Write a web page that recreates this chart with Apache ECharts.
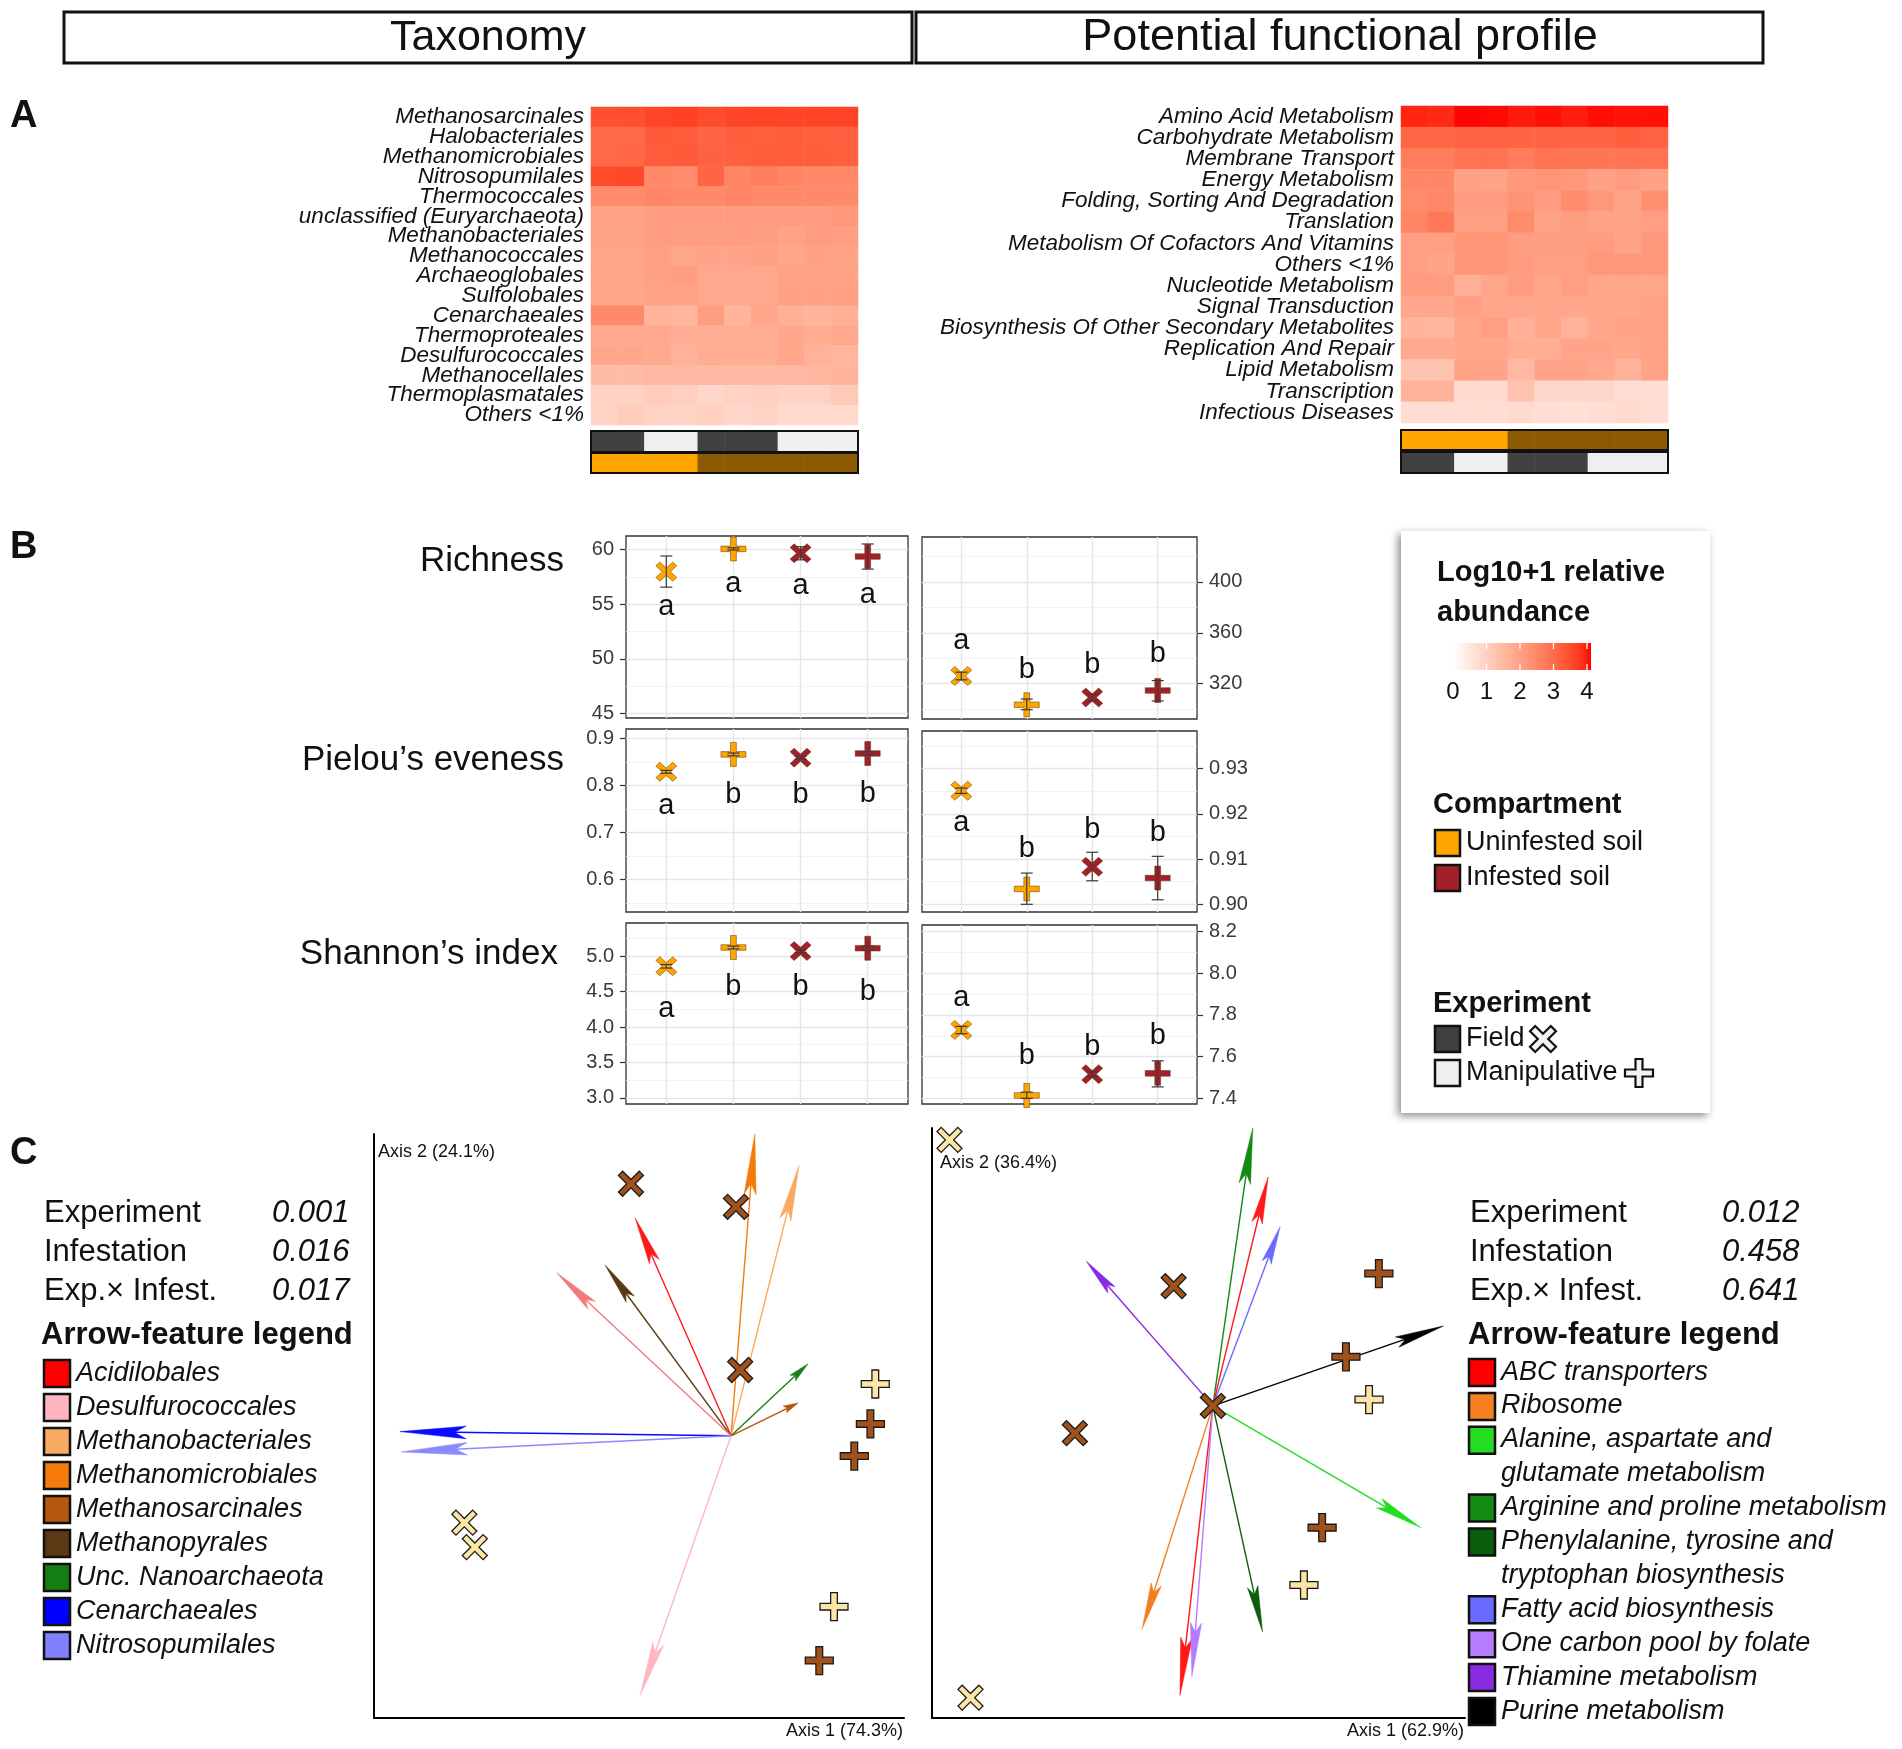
<!DOCTYPE html>
<html><head><meta charset="utf-8">
<script src="https://cdn.jsdelivr.net/npm/echarts@6/dist/echarts.min.js"></script>
<style>html,body{margin:0;padding:0;background:#fff}#c{width:1902px;height:1749px}</style>
</head><body><div id="c"></div>
<script>
// ================= DATA =================
// ---- Panel A : heatmaps (log10+1 relative abundance) ----
const sampleCols = ['S1','S2','S3','S4','S5','S6','S7','S8','S9','S10'];
const taxaRows = ['Methanosarcinales','Halobacteriales','Methanomicrobiales','Nitrosopumilales','Thermococcales',
  'unclassified (Euryarchaeota)','Methanobacteriales','Methanococcales','Archaeoglobales','Sulfolobales',
  'Cenarchaeales','Thermoproteales','Desulfurococcales','Methanocellales','Thermoplasmatales','Others <1%'];
const taxaValues = [
  [3.45,3.48,3.62,3.68,3.52,3.62,3.63,3.62,3.63,3.64],
  [3.08,3.05,3.30,3.28,3.15,3.24,3.22,3.24,3.22,3.20],
  [3.08,3.10,3.28,3.30,3.18,3.22,3.25,3.26,3.24,3.22],
  [3.55,3.58,2.47,2.40,3.15,2.55,2.68,2.55,2.48,2.48],
  [2.45,2.45,2.52,2.47,2.47,2.55,2.47,2.47,2.47,2.47],
  [1.98,1.98,2.12,2.10,2.10,2.10,2.10,2.10,2.10,2.18],
  [1.95,1.95,2.08,2.08,2.08,2.08,2.08,1.98,2.10,2.05],
  [1.92,1.92,2.02,1.90,1.93,1.93,2.00,1.88,2.00,1.93],
  [1.92,1.92,2.00,2.08,1.85,1.85,1.85,1.98,1.98,1.98],
  [1.88,1.88,1.98,1.98,1.85,1.85,1.85,2.00,2.00,2.00],
  [2.47,2.47,1.62,1.58,2.08,1.62,1.88,1.70,1.62,1.70],
  [1.82,1.82,1.85,1.75,1.75,1.75,1.75,1.88,1.78,1.85],
  [1.88,1.88,1.82,1.65,1.78,1.75,1.75,1.88,1.65,1.58],
  [1.45,1.45,1.52,1.52,1.52,1.52,1.52,1.52,1.55,1.60],
  [0.95,0.95,1.10,1.00,0.85,0.95,1.00,0.92,0.95,1.15],
  [0.92,1.10,0.95,0.92,1.02,0.85,0.95,0.80,0.80,0.82]];
const funcRows = ['Amino Acid Metabolism','Carbohydrate Metabolism','Membrane Transport','Energy Metabolism',
  'Folding, Sorting And Degradation','Translation','Metabolism Of Cofactors And Vitamins','Others <1%',
  'Nucleotide Metabolism','Signal Transduction','Biosynthesis Of Other Secondary Metabolites',
  'Replication And Repair','Lipid Metabolism','Transcription','Infectious Diseases'];
const funcValues = [
  [3.95,3.90,4.10,4.08,4.00,4.05,3.98,4.06,4.03,4.05],
  [3.10,3.10,3.17,3.17,3.15,3.13,3.13,3.13,3.25,3.17],
  [2.70,2.70,2.88,2.88,2.70,2.88,2.83,2.83,2.85,2.85],
  [2.52,2.52,2.00,1.93,2.20,2.25,2.20,2.00,2.12,2.00],
  [2.45,2.50,2.12,2.12,2.27,2.12,2.40,2.20,1.95,2.33],
  [2.55,2.80,2.05,2.05,2.45,1.98,2.08,1.98,1.98,2.05],
  [2.05,2.05,2.22,2.22,2.08,2.08,2.08,2.10,1.98,2.15],
  [2.05,1.93,2.22,2.22,2.10,2.05,2.05,2.20,2.20,2.20],
  [2.10,2.10,1.70,1.88,2.10,1.88,2.05,1.88,1.88,1.88],
  [1.87,1.87,2.05,1.88,1.88,1.88,1.88,1.88,1.88,1.98],
  [1.62,1.58,1.88,2.05,1.70,1.88,1.65,1.88,1.98,1.98],
  [1.82,1.82,1.88,1.88,1.75,1.75,1.93,1.93,1.88,1.98],
  [1.25,1.25,1.98,1.93,1.50,1.93,1.93,1.85,1.65,1.98],
  [1.65,1.65,0.80,0.80,1.30,0.85,0.85,0.85,0.72,0.72],
  [0.72,0.72,0.72,0.72,0.80,0.70,0.65,0.70,0.80,0.68]];
const experimentAnnot = [0,0,1,1,0,0,0,1,1,1];   // 0 Field, 1 Manipulative
const compartmentAnnot = [2,2,2,2,3,3,3,3,3,3];  // 2 Uninfested, 3 Infested
const annotColors = ['#404040','#efefef','#ffa500','#8c5a00'];
const abundanceTicks = [0,1,2,3,4];
const abundanceMax = 4.12;

// ---- Panel B : alpha diversity (4 groups) ----
const groupNames = ['Uninfested-Field','Uninfested-Manipulative','Infested-Field','Infested-Manipulative'];
const groupX = [1,2,3,4];
const groupShape = ['x','+','x','+'];
const groupColor = ['#ffa500','#ffa500','#a3202a','#a3202a'];

const taxRichMean=[57.97,60.05,59.65,59.35], taxRichLow=[56.55,59.95,59.05,58.2], taxRichHigh=[59.4,60.15,60.25,60.5];
const taxRichLetters=['a','a','a','a'], taxRichLetterY=[54.74,56.85,56.67,55.79];
const taxRichTicks=[45,50,55,60], taxRichRange=[44.58,61.23];

const taxEvenMean=[0.829,0.866,0.859,0.868], taxEvenLow=[0.826,0.863,0.856,0.864], taxEvenHigh=[0.832,0.869,0.862,0.872];
const taxEvenLetters=['a','b','b','b'], taxEvenLetterY=[0.757,0.780,0.780,0.781];
const taxEvenTicks=[0.6,0.7,0.8,0.9], taxEvenRange=[0.531,0.920];

const taxShanMean=[4.855,5.12,5.07,5.11], taxShanLow=[4.83,5.10,5.05,5.08], taxShanHigh=[4.88,5.14,5.09,5.14];
const taxShanLetters=['a','b','b','b'], taxShanLetterY=[4.255,4.566,4.566,4.496];
const taxShanTicks=[3.0,3.5,4.0,4.5,5.0], taxShanRange=[2.915,5.465];

const funRichMean=[326,303.4,309.1,314.6], funRichLow=[323,299.5,306.5,306.4], funRichHigh=[329,307.9,311.7,322.4];
const funRichLetters=['a','b','b','b'], funRichLetterY=[353.2,330.6,334.5,343.5];
const funRichTicks=[320,360,400], funRichRange=[292.2,435.3];

const funEvenMean=[0.9251,0.9034,0.9083,0.9058], funEvenLow=[0.9245,0.900,0.9052,0.9010], funEvenHigh=[0.9257,0.9069,0.9115,0.9106];
const funEvenLetters=['a','b','b','b'], funEvenLetterY=[0.918,0.9123,0.9165,0.9157];
const funEvenTicks=[0.90,0.91,0.92,0.93], funEvenRange=[0.8983,0.9383];

const funShanMean=[7.728,7.414,7.516,7.52], funShanLow=[7.71,7.40,7.505,7.455], funShanHigh=[7.745,7.43,7.527,7.58];
const funShanLetters=['a','b','b','b'], funShanLetterY=[7.882,7.603,7.646,7.699];
const funShanTicks=[7.4,7.6,7.8,8.0,8.2], funShanRange=[7.373,8.231];

// ---- Panel C : PCoA biplots ----
const taxScore1 = [-0.143,0.007,0.013,-0.381,-0.366,0.206,0.147,0.199,0.176,0.126];
const taxScore2 = [0.360,0.327,0.094,-0.124,-0.159,0.074,-0.244,0.017,-0.029,-0.321];
const taxPointExp = ['Field','Field','Field','Field','Field','Manipulative','Manipulative','Manipulative','Manipulative','Manipulative'];
const taxPointInf = ['Infested','Infested','Infested','Uninfested','Uninfested','Uninfested','Uninfested','Infested','Infested','Infested'];
const taxArrowNames = ['Methanomicrobiales','Methanobacteriales','Acidilobales','Methanopyrales','Desulfurococcales (2)',
  'Unc. Nanoarchaeota','Methanosarcinales','Cenarchaeales','Nitrosopumilales','Desulfurococcales'];
const taxArrow1 = [0.034,0.097,-0.137,-0.180,-0.249,0.110,0.096,-0.473,-0.471,-0.130];
const taxArrow2 = [0.431,0.386,0.311,0.244,0.233,0.103,0.047,0.006,-0.023,-0.371];
const taxArrowColors = ['#f47a0c','#f9aa62','#ff1a1a','#5a3a12','#f27c7c','#1e7e1e','#b4570f','#0a0aff','#8a8aff','#ffb6c1'];
const taxAxisRange1 = [-0.510,0.247], taxAxisRange2 = [-0.403,0.431];

const funScore1 = [0,-0.056,-0.197,-0.346,-0.376,0.237,0.190,0.156,0.223,0.130];
const funScore2 = [0,0.171,-0.039,-0.417,0.380,0.189,0.070,-0.174,0.009,-0.256];
const funPointExp = ['Field','Field','Field','Field','Field','Manipulative','Manipulative','Manipulative','Manipulative','Manipulative'];
const funPointInf = ['Infested','Infested','Infested','Uninfested','Uninfested','Infested','Infested','Infested','Uninfested','Uninfested'];
const funArrowNames = ['Arginine and proline metabolism','ABC transporters','Fatty acid biosynthesis','Thiamine metabolism',
  'Purine metabolism','Alanine, aspartate and glutamate metabolism','Phenylalanine, tyrosine and tryptophan biosynthesis',
  'Ribosome','ABC transporters (2)','One carbon pool by folate'];
const funArrow1 = [0.057,0.079,0.096,-0.181,0.329,0.297,0.071,-0.101,-0.047,-0.030];
const funArrow2 = [0.397,0.327,0.256,0.207,0.114,-0.174,-0.323,-0.319,-0.414,-0.387];
const funArrowColors = ['#138a13','#ff1a1a','#6a6aff','#8a2be2','#000000','#22dd22','#0b5e0b','#f08020','#ff1a1a','#b57cff'];
const funAxisRange1 = [-0.401,0.360], funAxisRange2 = [-0.446,0.397];

const statNames = ['Experiment','Infestation','Exp.\u00d7 Infest.'];
const taxStatP = ['0.001','0.016','0.017'];
const funStatP = ['0.012','0.458','0.641'];
const taxLegendNames = ['Acidilobales','Desulfurococcales','Methanobacteriales','Methanomicrobiales','Methanosarcinales',
  'Methanopyrales','Unc. Nanoarchaeota','Cenarchaeales','Nitrosopumilales'];
const taxLegendColors = ['#ff0000','#ffb6c1','#f9aa62','#f47a0c','#b4570f','#5a3a12','#137f13','#0000ff','#8080ff'];
const funLegendNames = ['ABC transporters','Ribosome','Alanine, aspartate and\nglutamate metabolism','Arginine and proline metabolism',
  'Phenylalanine, tyrosine and\ntryptophan biosynthesis','Fatty acid biosynthesis','One carbon pool by folate','Thiamine metabolism','Purine metabolism'];
const funLegendColors = ['#ff0000','#f58020','#22dd22','#138a13','#0b5e0b','#6a6aff','#b57cff','#8a2be2','#000000'];

// ================= STYLE HELPERS =================
const FONT = "'Liberation Sans', Arial, sans-serif";
const INK = '#111';
function labToRgb(L,a,b){
  const fy=(L+16)/116, fx=fy+a/500, fz=fy-b/200;
  const f=t=>{const t3=t*t*t; return t3>0.008856?t3:(t-16/116)/7.787;};
  const X=0.95047*f(fx), Y=f(fy), Z=1.08883*f(fz);
  const r=3.2406*X-1.5372*Y-0.4986*Z, g=-0.9689*X+1.8758*Y+0.0415*Z, bb=0.0557*X-0.2040*Y+1.0570*Z;
  const gam=c=>{c=Math.max(0,Math.min(1,c));return c<=0.0031308?12.92*c:1.055*Math.pow(c,1/2.4)-0.055;};
  return 'rgb('+[r,g,bb].map(c=>Math.round(gam(c)*255)).join(',')+')';
}
const rampStops=[];
for(let i=0;i<=24;i++){const t=i/24; rampStops.push(labToRgb(100-46.76*t,80.09*t,67.2*t));}

function crossRaw(h, rot){
  let p=[[-h,-3],[h,-3],[h,-h],[3,-h],[3,h],[h,h],[h,3],[-h,3],[-h,h],[-3,h],[-3,-h],[-h,-h]];
  if(rot){const s=Math.SQRT1_2; p=p.map(q=>[(q[0]-q[1])*s,(q[0]+q[1])*s]);}
  return p;
}
function crossPath(h,rot){return 'path://M'+crossRaw(h,rot).map(q=>q[0].toFixed(3)+','+q[1].toFixed(3)).join('L')+'Z';}
function crossPoly(h,rot,cx,cy,size){
  const p=crossRaw(h,rot); const m=Math.max(...p.map(q=>Math.abs(q[0])));
  return p.map(q=>[cx+q[0]/m*size/2, cy+q[1]/m*size/2]);
}
const PLUS_B=crossPath(0.7,false), X_B=crossPath(0.72,true);
const PLUS_C=crossPath(0.72,false), X_C=crossPath(0.6,true);

// ================= BUILD OPTION =================
const grid=[], xAxis=[], yAxis=[], series=[], graphic=[];
function txt(text,x,y,size,opt){
  opt=opt||{};
  graphic.push({type:'text',z:50,style:{text:text,x:x,y:y,fill:opt.color||INK,
    font:(opt.italic?'italic ':'')+(opt.bold?'bold ':'')+size+'px '+FONT,
    textAlign:opt.align||'left',textVerticalAlign:'middle'}});
}
function rect(x,y,w,h,fill,stroke,lw,z){
  graphic.push({type:'rect',z:z||40,shape:{x:x,y:y,width:w,height:h},style:{fill:fill,stroke:stroke,lineWidth:lw||0}});
}

// --- heatmaps ---
const heatSeriesIdx=[], annotSeriesIdx=[];
function addHeat(rows, values, box){
  const gi=grid.length, xi=xAxis.length, yi=yAxis.length;
  grid.push({left:box.left,top:box.top,width:box.width,height:box.height});
  xAxis.push({gridIndex:gi,type:'category',data:sampleCols,show:false});
  yAxis.push({gridIndex:gi,type:'category',data:rows,inverse:true,axisLine:{show:false},axisTick:{show:false},
    axisLabel:{interval:0,fontFamily:FONT,fontStyle:'italic',fontSize:22.5,color:INK,margin:7}});
  const data=[]; values.forEach((r,ri)=>r.forEach((v,ci)=>data.push([ci,ri,v])));
  heatSeriesIdx.push(series.length);
  series.push({type:'heatmap',xAxisIndex:xi,yAxisIndex:yi,data:data,itemStyle:{borderWidth:0},emphasis:{disabled:true},progressive:0});
}
function addAnnot(codes, box){
  const gi=grid.length, xi=xAxis.length, yi=yAxis.length;
  grid.push({left:box.left,top:box.top,width:box.width,height:box.height});
  xAxis.push({gridIndex:gi,type:'category',data:sampleCols,show:false});
  yAxis.push({gridIndex:gi,type:'category',data:['a'],show:false});
  annotSeriesIdx.push(series.length);
  series.push({type:'heatmap',xAxisIndex:xi,yAxisIndex:yi,data:codes.map((c,i)=>[i,0,c]),itemStyle:{borderWidth:0},emphasis:{disabled:true},progressive:0});
  rect(box.left,box.top,box.width,box.height,'none','#111',2,45);
}
addHeat(taxaRows,taxaValues,{left:591,top:107,width:267,height:318});
addAnnot(experimentAnnot,{left:591,top:431,width:267,height:21});
addAnnot(compartmentAnnot,{left:591,top:453,width:267,height:20});
addHeat(funcRows,funcValues,{left:1401,top:106,width:267,height:317});
addAnnot(compartmentAnnot,{left:1401,top:430,width:267,height:20});
addAnnot(experimentAnnot,{left:1401,top:452,width:267,height:21});

// --- diversity panels ---
function minorOf(t){const s=t[1]-t[0]; const m=[t[0]-s/2]; t.forEach(v=>m.push(v+s/2)); return m;}
function addDiv(box, side, range, ticks, dec, mean, low, high, letters, letterY){
  const gi=grid.length;
  grid.push({left:box.left,top:box.top,width:box.width,height:box.height,show:true,borderColor:'#333',borderWidth:1.3,backgroundColor:'#fff'});
  const xi=xAxis.length;
  xAxis.push({gridIndex:gi,type:'value',min:0.4,max:4.6,axisLine:{show:false},
    axisTick:{show:false,customValues:groupX},axisLabel:{show:false,customValues:groupX},
    splitLine:{show:true,lineStyle:{color:'#e6e6e6',width:1.4}}});
  const yi=yAxis.length;
  yAxis.push({gridIndex:gi,type:'value',position:side,min:range[0],max:range[1],axisLine:{show:false},
    axisTick:{show:true,customValues:ticks,length:6,lineStyle:{color:'#333',width:1.2}},
    axisLabel:{customValues:ticks,formatter:v=>Number(v).toFixed(dec),fontFamily:FONT,fontSize:20,color:'#3a3a3a',margin:12},
    splitLine:{show:true,lineStyle:{color:'#e6e6e6',width:1.4}}});
  const mv=minorOf(ticks).filter(v=>v>range[0]&&v<range[1]);
  yAxis.push({gridIndex:gi,type:'value',position:side==='left'?'right':'left',min:range[0],max:range[1],axisLine:{show:false},
    axisTick:{show:false,customValues:mv},axisLabel:{show:false,customValues:mv},
    splitLine:{show:true,lineStyle:{color:'#f0f0f0',width:0.8}}});
  series.push({type:'scatter',xAxisIndex:xi,yAxisIndex:yi,z:3,
    data:mean.map((m,i)=>({value:[groupX[i],m],symbol:groupShape[i]==='x'?X_B:PLUS_B,
      symbolSize:groupShape[i]==='x'?[21,19]:[25,24],
      itemStyle:{color:groupColor[i],opacity:1,borderColor:'#5a3500',borderWidth:0.5}}))});
  series.push({type:'custom',xAxisIndex:xi,yAxisIndex:yi,z:4,data:mean.map((m,i)=>[groupX[i],low[i],high[i]]),
    renderItem:(p,api)=>{const x=api.value(0);const a=api.coord([x,api.value(1)]),b=api.coord([x,api.value(2)]);
      const st={stroke:'#3a3a3a',lineWidth:1.2};const w=6;
      return {type:'group',children:[
        {type:'line',shape:{x1:a[0],y1:a[1],x2:b[0],y2:b[1]},style:st},
        {type:'line',shape:{x1:a[0]-w,y1:a[1],x2:a[0]+w,y2:a[1]},style:st},
        {type:'line',shape:{x1:b[0]-w,y1:b[1],x2:b[0]+w,y2:b[1]},style:st}]};}});
  series.push({type:'custom',xAxisIndex:xi,yAxisIndex:yi,z:5,data:letterY.map((y,i)=>[groupX[i],y,i]),
    renderItem:(p,api)=>{const c=api.coord([api.value(0),api.value(1)]);
      return {type:'text',style:{text:letters[api.value(2)],x:c[0],y:c[1],font:'29px '+FONT,fill:INK,
        textAlign:'center',textVerticalAlign:'middle'}};}});
}
addDiv({left:626,top:536,width:282,height:182},'left',taxRichRange,taxRichTicks,0,taxRichMean,taxRichLow,taxRichHigh,taxRichLetters,taxRichLetterY);
addDiv({left:626,top:729,width:282,height:183},'left',taxEvenRange,taxEvenTicks,1,taxEvenMean,taxEvenLow,taxEvenHigh,taxEvenLetters,taxEvenLetterY);
addDiv({left:626,top:923,width:282,height:181},'left',taxShanRange,taxShanTicks,1,taxShanMean,taxShanLow,taxShanHigh,taxShanLetters,taxShanLetterY);
addDiv({left:922,top:537,width:275,height:182},'right',funRichRange,funRichTicks,0,funRichMean,funRichLow,funRichHigh,funRichLetters,funRichLetterY);
addDiv({left:922,top:731,width:275,height:181},'right',funEvenRange,funEvenTicks,2,funEvenMean,funEvenLow,funEvenHigh,funEvenLetters,funEvenLetterY);
addDiv({left:922,top:925,width:275,height:179},'right',funShanRange,funShanTicks,1,funShanMean,funShanLow,funShanHigh,funShanLetters,funShanLetterY);

// --- PCoA biplots ---
const infColor={Infested:'#a0521a',Uninfested:'#fbe6a6'};
function addPcoa(box, r1, r2, s1, s2, pExp, pInf, a1, a2, aCol){
  const gi=grid.length, xi=xAxis.length, yi=yAxis.length;
  grid.push({left:box.left,top:box.top,width:box.width,height:box.height});
  const ls={color:'#000',width:2};
  xAxis.push({gridIndex:gi,type:'value',min:r1[0],max:r1[1],axisLine:{show:true,onZero:false,lineStyle:ls},
    axisTick:{show:false},axisLabel:{show:false},splitLine:{show:false}});
  yAxis.push({gridIndex:gi,type:'value',min:r2[0],max:r2[1],axisLine:{show:true,onZero:false,lineStyle:ls},
    axisTick:{show:false},axisLabel:{show:false},splitLine:{show:false}});
  series.push({type:'custom',xAxisIndex:xi,yAxisIndex:yi,z:2,clip:false,data:a1.map((v,i)=>[v,a2[i],i]),
    renderItem:(p,api)=>{
      const o=api.coord([0,0]), t=api.coord([api.value(0),api.value(1)]); const col=aCol[api.value(2)];
      const dx=t[0]-o[0], dy=t[1]-o[1], len=Math.hypot(dx,dy), ux=dx/len, uy=dy/len, nx=-uy, ny=ux;
      const hl=0.2*len, hw=3+0.01*len;
      const bx=t[0]-ux*hl, by=t[1]-uy*hl, mx=t[0]-ux*hl*0.82, my=t[1]-uy*hl*0.82;
      return {type:'group',children:[
        {type:'line',shape:{x1:o[0],y1:o[1],x2:mx,y2:my},style:{stroke:col,lineWidth:1.4}},
        {type:'polygon',shape:{points:[[t[0],t[1]],[bx+nx*hw,by+ny*hw],[mx,my],[bx-nx*hw,by-ny*hw]]},style:{fill:col,stroke:col,lineWidth:0.5}}]};
    }});
  series.push({type:'scatter',xAxisIndex:xi,yAxisIndex:yi,z:4,clip:false,
    data:s1.map((v,i)=>({value:[v,s2[i]],symbol:pExp[i]==='Field'?X_C:PLUS_C,symbolSize:pExp[i]==='Field'?[25,25]:[28,28],
      itemStyle:{color:infColor[pInf[i]],opacity:1,borderColor:'#1a1a1a',borderWidth:1.3}}))});
}
addPcoa({left:374,top:1134,width:530,height:584},taxAxisRange1,taxAxisRange2,taxScore1,taxScore2,taxPointExp,taxPointInf,taxArrow1,taxArrow2,taxArrowColors);
addPcoa({left:932,top:1128,width:533,height:590},funAxisRange1,funAxisRange2,funScore1,funScore2,funPointExp,funPointInf,funArrow1,funArrow2,funArrowColors);

// ================= GRAPHIC TEXT / LEGENDS =================
rect(64,12,848,51,'#fff','#111',3);
rect(916,12,847,51,'#fff','#111',3);
txt('Taxonomy',488,38,43,{align:'center'});
txt('Potential functional profile',1340,38,45,{align:'center'});
txt('A',10,117,38,{bold:true});
txt('B',10,548,38,{bold:true});
txt('C',10,1154,38,{bold:true});
txt('Richness',564,561,35,{align:'right'});
txt('Pielou\u2019s eveness',564,760,35,{align:'right'});
txt('Shannon\u2019s index',558,954,35,{align:'right'});

// legend box for A/B
graphic.push({type:'rect',z:30,shape:{x:1401,y:531,width:309,height:582},
  style:{fill:'#fff',shadowBlur:8,shadowColor:'rgba(0,0,0,0.45)',shadowOffsetX:-3,shadowOffsetY:3}});
txt('Log10+1 relative',1437,573,29,{bold:true});
txt('abundance',1437,613,29,{bold:true});
const gx0=1453, gw=(1591-1453);
graphic.push({type:'rect',z:41,shape:{x:gx0,y:643,width:gw,height:27},
  style:{fill:new echarts.graphic.LinearGradient(0,0,1,0,rampStops.map((c,i)=>({offset:i/(rampStops.length-1),color:c})))}});
abundanceTicks.forEach(v=>{
  const x=gx0+gw*v/abundanceMax;
  if(v>0){
    graphic.push({type:'line',z:42,shape:{x1:x,y1:643,x2:x,y2:649},style:{stroke:'#fff',lineWidth:1.2}});
    graphic.push({type:'line',z:42,shape:{x1:x,y1:664,x2:x,y2:670},style:{stroke:'#fff',lineWidth:1.2}});
  }
  txt(String(v),x,692,24,{align:'center'});
});
txt('Compartment',1433,805,29,{bold:true});
rect(1435,830,25,26,'#ffa500','#111',2.5);
txt('Uninfested soil',1466,843,27);
rect(1435,865,25,26,'#a3202a','#111',2.5);
txt('Infested soil',1466,878,27);
txt('Experiment',1433,1004,29,{bold:true});
rect(1435,1026,25,26,'#404040','#111',2.5);
txt('Field',1466,1039,27);
graphic.push({type:'polygon',z:45,shape:{points:crossPoly(0.75,true,1543,1039,26)},style:{fill:'#f2f2f2',stroke:'#111',lineWidth:2.2}});
rect(1435,1060,25,26,'#efefef','#111',2.5);
txt('Manipulative',1466,1073,27);
graphic.push({type:'polygon',z:45,shape:{points:crossPoly(0.75,false,1639,1073,28)},style:{fill:'#f2f2f2',stroke:'#111',lineWidth:2.2}});

// Panel C texts
const statY=[1213,1252,1291];
statNames.forEach((n,i)=>{
  txt(n,44,statY[i],31); txt(taxStatP[i],272,statY[i],31,{italic:true});
  txt(n,1470,statY[i],31); txt(funStatP[i],1722,statY[i],31,{italic:true});
});
txt('Arrow-feature legend',41,1335,31,{bold:true});
txt('Arrow-feature legend',1468,1335,31,{bold:true});
taxLegendNames.forEach((n,i)=>{
  const y=1373+i*34;
  rect(44,y-13,26,27,taxLegendColors[i],'#111',2.5);
  txt(n,76,y,27,{italic:true});
});
let line=0;
funLegendNames.forEach((n,i)=>{
  const y=1372+line*33.9;
  rect(1469,y-13,26,27,funLegendColors[i],'#111',2.5);
  n.split('\n').forEach((part,k)=>txt(part,1501,y+k*33.9,27,{italic:true}));
  line+=n.split('\n').length;
});
txt('Axis 2 (24.1%)',378,1152,18);
txt('Axis 1 (74.3%)',903,1731,18,{align:'right'});
txt('Axis 2 (36.4%)',940,1163,18);
txt('Axis 1 (62.9%)',1464,1731,18,{align:'right'});

const option={
  animation:false,
  backgroundColor:'#fff',
  grid:grid, xAxis:xAxis, yAxis:yAxis, series:series, graphic:graphic,
  visualMap:[
    {type:'continuous',show:false,min:0,max:abundanceMax,dimension:2,seriesIndex:heatSeriesIdx,inRange:{color:rampStops}},
    {type:'piecewise',show:false,dimension:2,seriesIndex:annotSeriesIdx,
      pieces:annotColors.map((c,i)=>({value:i,color:c}))}
  ]
};
const chart=echarts.init(document.getElementById('c'),null,{renderer:'canvas'});
chart.setOption(option);
</script></body></html>
